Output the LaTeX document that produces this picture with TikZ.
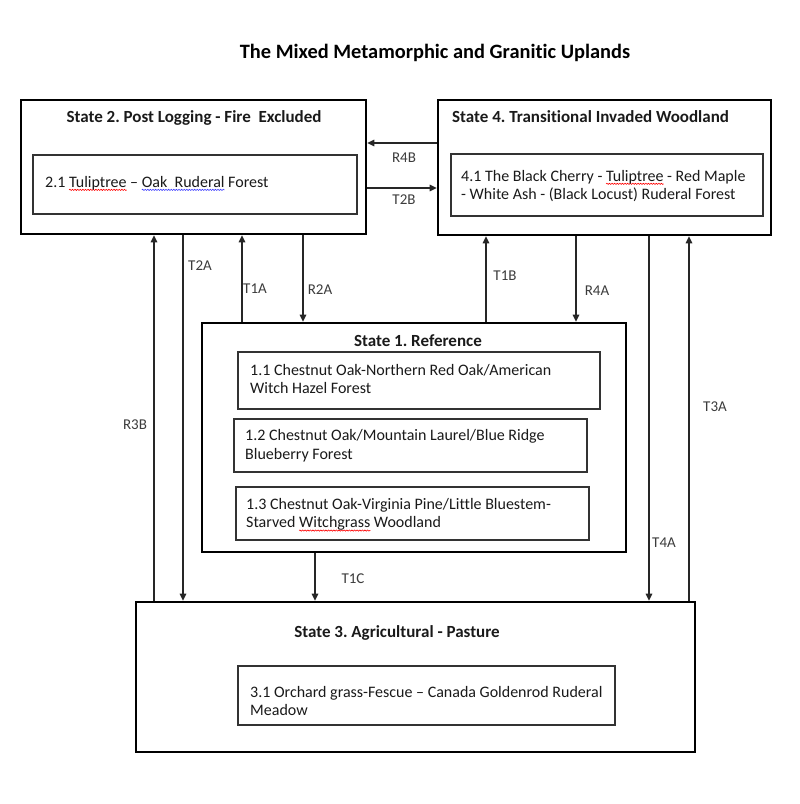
\documentclass[tikz,border=0pt]{standalone}
\usepackage{fontspec}
\setmainfont{Carlito}[Ligatures={NoCommon,NoContextual}]
\frenchspacing
\usetikzlibrary{arrows.meta,decorations.pathmorphing}
\definecolor{txt}{HTML}{1A1A1A}
\definecolor{lbl}{HTML}{3C3C3C}
\newsavebox\wbox
\newlength\wlen
\newcommand\wavy[2]{\sbox\wbox{#2}\setlength\wlen{\wd\wbox}\leavevmode\tikz[overlay,baseline=0pt]\draw[#1,line width=0.6pt,decorate,decoration={snake,amplitude=0.6pt,segment length=2.6pt}] (0pt,-2.6pt) -- (\wlen,-2.6pt);\usebox\wbox}
\begin{document}
\begin{tikzpicture}[x=1pt,y=-1pt,
  statebox/.style={draw=black,line width=2.6pt,inner sep=0pt},
  subbox/.style={draw=black!80,line width=1.5pt,inner sep=0pt},
  arr/.style={draw=black!85,line width=1.2pt,-{Triangle[length=7pt,width=6.5pt]}},
  lab/.style={font=\fontsize{15}{18}\selectfont,text=lbl,inner sep=0pt},
  body/.style={font=\fontsize{16}{18.5}\selectfont,align=left,inner sep=0pt,anchor=west,text=txt},
  stitle/.style={font=\bfseries\fontsize{17}{20}\selectfont,inner sep=0pt,text=txt},
  maintitle/.style={font=\bfseries\fontsize{20.4}{24}\selectfont,inner sep=0pt,text=black}]
\useasboundingbox (0,0) rectangle (800,804);
\fill[white] (0,0) rectangle (800,804);

\node[maintitle] (title) at (435,53) {The Mixed Metamorphic and Granitic Uplands};

% State boxes
\node[statebox,minimum width=345pt,minimum height=134pt] (s2) at (193.5,167) {};
\node[statebox,minimum width=333pt,minimum height=135pt] (s4) at (604.5,167.5) {};
\node[statebox,minimum width=424pt,minimum height=229pt] (s1) at (414,437.5) {};
\node[statebox,minimum width=559pt,minimum height=150pt] (s3) at (415.5,677) {};

% State titles
\node[stitle] (t2) at (194,118) {State 2. Post Logging - Fire\ \ Excluded};
\node[stitle,anchor=west] (t4) at (452,117) {State 4. Transitional Invaded Woodland};
\node[stitle] (t1) at (418,341) {State 1. Reference};
\node[stitle] (t3) at (397,633) {State 3. Agricultural - Pasture};

% Community boxes
\node[subbox,minimum width=324pt,minimum height=59pt] (b21) at (195,184.5) {};
\node[subbox,minimum width=312pt,minimum height=62pt] (b41) at (607,185) {};
\node[subbox,minimum width=362pt,minimum height=57pt] (b11) at (419,380.5) {};
\node[subbox,minimum width=353pt,minimum height=53pt] (b12) at (410.5,445.5) {};
\node[subbox,minimum width=353pt,minimum height=53pt] (b13) at (412.5,513.5) {};
\node[subbox,minimum width=377pt,minimum height=59pt] (b31) at (426.5,695.5) {};

\node[body] (x21) at (45,183) {2.1 \wavy{red}{Tuliptree} -- \wavy{blue!75}{Oak\ \ Ruderal} Forest};
\node[body] (x41) at (461,186) {4.1 The Black Cherry - \wavy{red}{Tuliptree} - Red Maple\\- White Ash - (Black Locust) Ruderal Forest};
\node[body] (x11) at (250,379) {1.1 Chestnut Oak-Northern Red Oak/American\\Witch Hazel Forest};
\node[body] (x12) at (245,445.5) {1.2 Chestnut Oak/Mountain Laurel/Blue Ridge\\Blueberry Forest};
\node[body] (x13) at (246,514.5) {1.3 Chestnut Oak-Virginia Pine/Little Bluestem-\\Starved \wavy{red}{Witchgrass} Woodland};
\node[body] (x31) at (250,701) {3.1 Orchard grass-Fescue -- Canada Goldenrod Ruderal\\Meadow};

% connector positions
\coordinate (yR4B) at (0,143);
\coordinate (yT2B) at (0,188);
\coordinate (xR3B) at (154,0);
\coordinate (xT2A) at (183,0);
\coordinate (xT1A) at (242,0);
\coordinate (xR2A) at (303,0);
\coordinate (xT1C) at (315,0);
\coordinate (xT1B) at (486,0);
\coordinate (xR4A) at (576,0);
\coordinate (xT4A) at (649,0);
\coordinate (xT3A) at (689,0);

\draw[arr] (s4.west |- yR4B) -- (s2.east |- yR4B);
\draw[arr] (s2.east |- yT2B) -- (s4.west |- yT2B);
\draw[arr] (xR3B |- s3.north) -- (xR3B |- s2.south);
\draw[arr] (xT2A |- s2.south) -- (xT2A |- s3.north);
\draw[arr] (xT1A |- s1.north) -- (xT1A |- s2.south);
\draw[arr] (xR2A |- s2.south) -- (xR2A |- s1.north);
\draw[arr] (xT1C |- s1.south) -- (xT1C |- s3.north);
\draw[arr] (xT1B |- s1.north) -- (xT1B |- s4.south);
\draw[arr] (xR4A |- s4.south) -- (xR4A |- s1.north);
\draw[arr] (xT4A |- s4.south) -- (xT4A |- s3.north);
\draw[arr] (xT3A |- s3.north) -- (xT3A |- s4.south);

% labels
\node[lab] (lR4B) at (404,158) {R4B};
\node[lab] (lT2B) at (404,200) {T2B};
\node[lab] (lR3B) at (135,425) {R3B};
\node[lab] (lT2A) at (200,266) {T2A};
\node[lab] (lT1A) at (255,289) {T1A};
\node[lab] (lR2A) at (320,290) {R2A};
\node[lab] (lT1C) at (353,579) {T1C};
\node[lab] (lT1B) at (505,276) {T1B};
\node[lab] (lR4A) at (597,291) {R4A};
\node[lab] (lT4A) at (664,543) {T4A};
\node[lab] (lT3A) at (715,407) {T3A};
\end{tikzpicture}
\end{document}
